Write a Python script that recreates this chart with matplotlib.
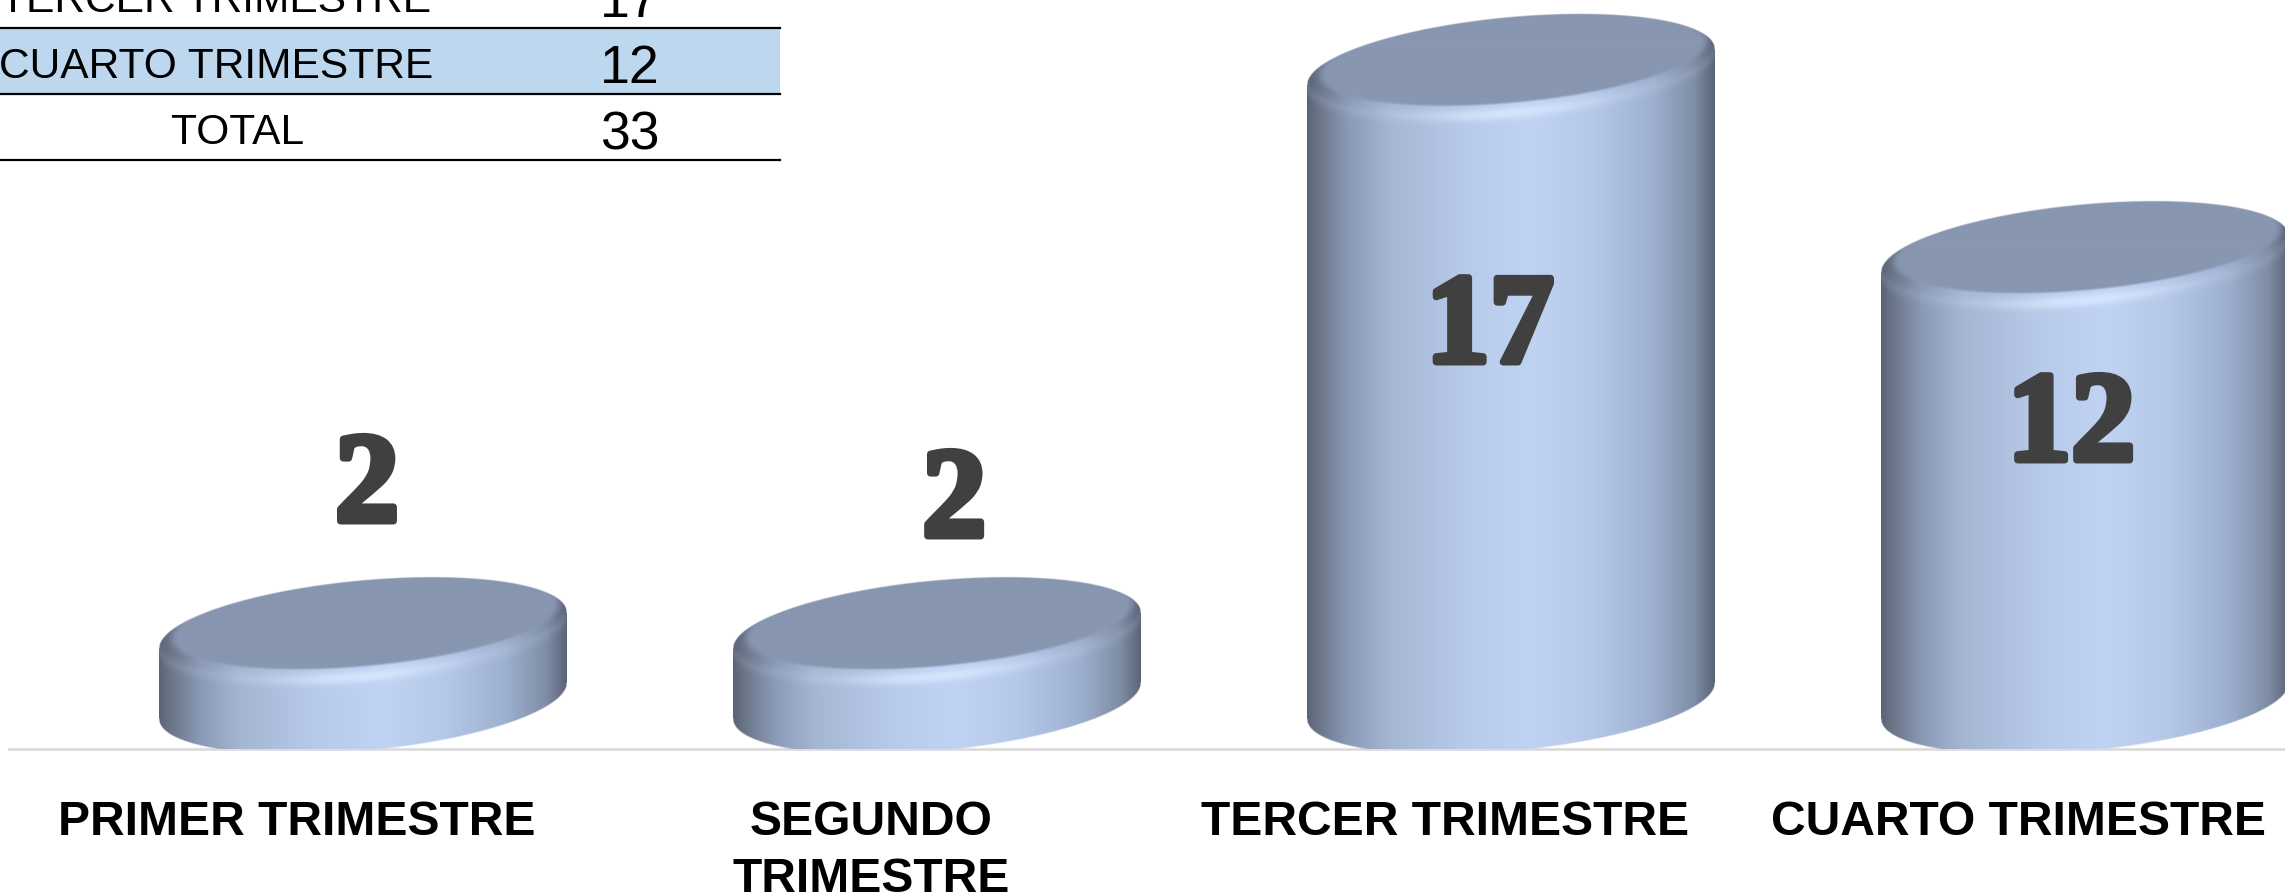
import numpy as np
import matplotlib
matplotlib.use('Agg')
import matplotlib.pyplot as plt
import matplotlib.patheffects as pe
from matplotlib.colors import to_rgb

categories = ['PRIMER TRIMESTRE', 'SEGUNDO\nTRIMESTRE', 'TERCER TRIMESTRE', 'CUARTO TRIMESTRE']
values = [2, 2, 17, 12]
table_rows = ['TERCER TRIMESTRE', 'CUARTO TRIMESTRE', 'TOTAL']
table_vals = ['17', '12', '33']

W, H = 2285, 893
X0, DX = 363, 574       # pixel of first cylinder, pixels per category
Y0, DY = 706, 37.6      # pixel of value 0, pixels per unit
A = 204 / DX            # half width of a cylinder
B = 50 / DY             # half height of its ellipse
SHEAR = 18 / DY         # how far the right side rises
BASE = -43 / DY         # where the axis line sits
FOOT = 5 / DY           # bottom ellipse sits a little above value 0

stops = [0, .03, .1, .2, .4, .55, .7, .85, .95, 1]
cols = ['#5a6477', '#6b7689', '#8a99b5', '#a5b6d4', '#b9cbeb', '#c0d3f3', '#b5c8e8', '#9eb0cf', '#7f8da6', '#5a6476']
cols = np.array([to_rgb(c) for c in cols])
face = np.array(to_rgb('#8896b0'))
light = np.array(to_rgb('#dbe9ff'))


def smooth(a):
    a = np.clip(a, 0, 1)
    return a * a * (3 - 2 * a)


def cylinder(ax, i, v):
    nx = int(2 * A * DX) * 2
    ny = int((v + 3 * B) * DY) * 2
    xs = np.linspace(-A, A, nx)
    ys = np.linspace(BASE, v + 2 * B, ny)
    x, y = np.meshgrid(xs, ys)
    u = x / A
    w = y - SHEAR * u
    e = np.sqrt(1 - u ** 2) * B

    side = np.stack([np.interp((u + 1) / 2, stops, cols[:, k]) for k in range(3)], axis=-1)
    rgb = side.copy()

    # soft rim, strongest along the front edge of the top
    front = v - e * 0.92
    band = np.exp(-((w - front) * DY / 6.0) ** 2)
    glow = 0.1 + 0.72 * np.exp(-(u / 0.4) ** 2)
    rgb = rgb + (light - rgb) * (band * glow)[..., None]

    # inner flat face, pushed towards the back so it reaches the far edge
    u2 = (x - 0.004) / (A * 0.95)
    w2 = y - SHEAR * u - 9 / DY - v
    r = np.sqrt(u2 ** 2 + (w2 / (B * 0.9)) ** 2)
    m = smooth((1.03 - r) / 0.07)
    rgb = rgb + (face - rgb) * m[..., None]

    alpha = np.clip((v + e - w) * DY + .5, 0, 1) * np.clip((w - FOOT + e) * DY + .5, 0, 1)
    img = np.dstack([np.clip(rgb, 0, 1), alpha])
    ax.imshow(img, extent=(i - A, i + A, BASE, v + 2 * B), origin='lower',
              aspect='auto', interpolation='bilinear', zorder=2)


fig = plt.figure(figsize=(W / 100, H / 100), dpi=100)
ax = fig.add_axes([0, 0, 1, 1])
ax.axis('off')

for i, v in enumerate(values):
    cylinder(ax, i, v)

ax.set_xlim(-X0 / DX, (W - X0) / DX)
ax.set_ylim((Y0 - H) / DY, Y0 / DY)
ax.plot([(9 - X0) / DX, (W - X0) / DX], [BASE, BASE], color='#dcdcdc', lw=2, zorder=1)

# value labels, placed by hand like in the original
label_dx = [0.007, 0.03, -0.037, -0.024]
label_base = [521, 536, 362, 460]
for i, v in enumerate(values):
    ax.text(i + label_dx[i], (Y0 - label_base[i]) / DY, str(v), ha='center', va='baseline',
            family='Liberation Serif', weight='bold', fontsize=92, color='#404040', zorder=3,
            path_effects=[pe.withStroke(linewidth=5, foreground='#404040')])

for i, c in enumerate(categories):
    ax.text(i - 0.115, (Y0 - 835) / DY, c.split('\n')[0], ha='center', va='baseline',
            family='Liberation Sans', weight='bold', fontsize=34.6, color='black')
    if '\n' in c:
        ax.text(i - 0.115, (Y0 - 892) / DY, c.split('\n')[1], ha='center', va='baseline',
                family='Liberation Sans', weight='bold', fontsize=34.6, color='black')

# small table in the corner
tab = fig.add_axes([0, 0, 1, 1], facecolor='none')
tab.axis('off')
tab.set_xlim(0, W)
tab.set_ylim(H, 0)
tab.fill_between([0, 780], 28, 94, color='#bdd7ee', lw=0)
for yy in [28, 94, 160]:
    tab.plot([0, 780], [yy, yy], color='black', lw=1.6)
row_x = [216, 216, 238]
for k in range(3):
    b = 12 + 66 * k
    tab.text(row_x[k], b, table_rows[k], ha='center', va='baseline',
             family='Liberation Sans', fontsize=30.6, color='black')
    tab.text(630, b + 5, table_vals[k], ha='center', va='baseline',
             family='Liberation Sans', fontsize=38.5, color='black')

fig.savefig('out.png', dpi=100)
